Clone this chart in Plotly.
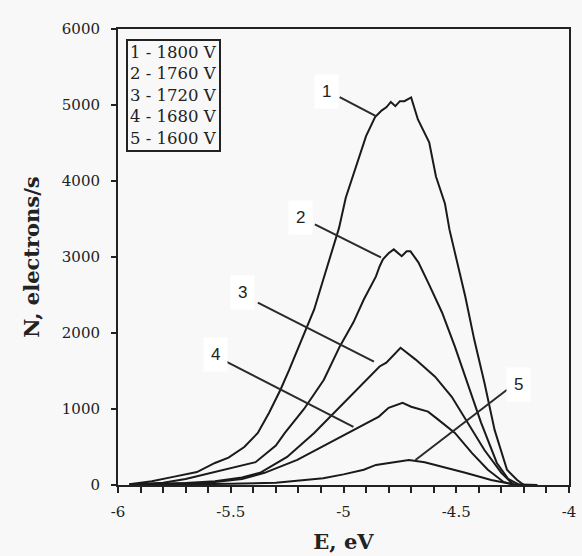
import plotly.graph_objects as go

# ---- data ----
E1 = [-5.95, -5.85, -5.75, -5.65, -5.57, -5.51, -5.44, -5.38, -5.33, -5.28, -5.24, -5.20, -5.16, -5.13,
      -5.09, -5.05, -5.02, -4.99, -4.94, -4.90, -4.86, -4.83, -4.81, -4.79, -4.77, -4.75, -4.73, -4.70,
      -4.67, -4.62, -4.59, -4.55, -4.53, -4.46, -4.42, -4.375, -4.33, -4.275, -4.23, -4.20]
N1 = [10, 50, 110, 170, 290, 360, 500, 685, 950, 1250, 1520, 1800, 2085, 2310,
      2700, 3100, 3380, 3780, 4245, 4590, 4840, 4930, 4970, 5040, 4985, 5050, 5050, 5100,
      4810, 4510, 4060, 3700, 3360, 2480, 1910, 1345, 725, 200, 65, 0]

E2 = [-5.95, -5.80, -5.70, -5.57, -5.47, -5.39, -5.30, -5.26, -5.175, -5.087, -5.017, -4.956, -4.91,
      -4.856, -4.84, -4.825, -4.80, -4.777, -4.742, -4.72, -4.703, -4.668, -4.624, -4.563, -4.506,
      -4.45, -4.39, -4.32, -4.27, -4.22]
N2 = [5, 30, 80, 170, 240, 300, 520, 685, 1000, 1385, 1820, 2140, 2440,
      2745, 2875, 2970, 3050, 3100, 3010, 3075, 3075, 2930, 2660, 2270, 1820,
      1345, 820, 290, 80, 0]

E3 = [-5.90, -5.70, -5.57, -5.45, -5.37, -5.25, -5.13, -5.017, -4.93, -4.84, -4.81, -4.78, -4.747,
      -4.68, -4.594, -4.52, -4.45, -4.375, -4.30, -4.245]
N3 = [5, 25, 50, 100, 160, 370, 685, 1030, 1290, 1560, 1610, 1700, 1805,
      1650, 1425, 1160, 820, 460, 160, 0]

E4 = [-5.90, -5.60, -5.45, -5.35, -5.205, -5.06, -4.956, -4.843, -4.80, -4.738, -4.70, -4.65, -4.625,
      -4.58, -4.506, -4.43, -4.36, -4.29, -4.24]
N4 = [5, 30, 80, 160, 330, 555, 725, 900, 1015, 1080, 1030, 990, 965,
      860, 685, 420, 200, 40, 0]

E5 = [-5.90, -5.50, -5.30, -5.20, -5.09, -5.00, -4.91, -4.856, -4.78, -4.71, -4.64, -4.56, -4.46,
      -4.345, -4.25, -4.14]
N5 = [5, 15, 30, 60, 90, 140, 200, 264, 300, 330, 300, 240, 160,
      65, 10, 0]

series_E = [E1, E2, E3, E4, E5]
series_N = [N1, N2, N3, N4, N5]
series_names = ["1 - 1800 V", "2 - 1760 V", "3 - 1720 V", "4 - 1680 V", "5 - 1600 V"]

# curve labels and leader lines (label pos, line start, line end)
label_text = ["1", "2", "3", "4", "5"]
label_E = [-5.074, -5.192, -5.45, -5.568, -4.223]
label_N = [5183, 3521, 2532, 1714, 1319]
leader_E0 = [-5.017, -5.127, -5.38, -5.52, -4.275]
leader_N0 = [5105, 3429, 2400, 1622, 1253]
leader_E1 = [-4.856, -4.834, -4.865, -4.956, -4.681]
leader_N1 = [4855, 2994, 1622, 765, 330]

x_ticks = [-6, -5.5, -5, -4.5, -4]
x_ticklabels = ["-6", "-5.5", "-5", "-4.5", "-4"]
y_ticks = [0, 1000, 2000, 3000, 4000, 5000, 6000]

BG = "#f8f8f8"
SERIF = "DejaVu Serif"

fig = go.Figure()
for e, n, name in zip(series_E, series_N, series_names):
    fig.add_trace(go.Scatter(x=e, y=n, mode="lines", name=name,
                             line=dict(color="#1a1a1a", width=2), showlegend=False))

for t, le, ln, e0, n0, e1, n1 in zip(label_text, label_E, label_N, leader_E0, leader_N0, leader_E1, leader_N1):
    fig.add_shape(type="line", xref="x", yref="y", x0=e0, y0=n0, x1=e1, y1=n1,
                  line=dict(color="#2a2a2a", width=2))
    fig.add_annotation(x=le, y=ln, xref="x", yref="y", text=t, showarrow=False,
                       font=dict(family="Liberation Sans", size=17, color="#222"),
                       bgcolor="white", borderpad=7)

# legend box
fig.add_annotation(xref="paper", yref="paper", x=0.0175, y=0.978, xanchor="left", yanchor="top",
                   text="<br>".join(series_names), align="left", showarrow=False,
                   font=dict(family=SERIF, size=16.5, color="#222"),
                   bgcolor=BG, bordercolor="#222", borderwidth=2, borderpad=2)

fig.update_layout(
    width=582, height=556,
    margin=dict(l=118, r=6, t=29, b=71),
    paper_bgcolor=BG, plot_bgcolor=BG,
    font=dict(family=SERIF, color="#222"),
    showlegend=False,
)
fig.update_xaxes(range=[-6, -4], tickvals=x_ticks, ticktext=x_ticklabels,
                 ticks="outside", ticklen=6, tickwidth=2, tickcolor="#222", ticklabelstandoff=6,
                 minor=dict(dtick=0.1, tick0=-6, ticks="outside", ticklen=6, tickwidth=2, tickcolor="#222"),
                 showline=True, linecolor="#222", linewidth=2, mirror=True, showgrid=False, zeroline=False,
                 tickfont=dict(family=SERIF, size=15, color="#222"),
                 title=dict(text="<b>E, eV</b>", font=dict(family=SERIF, size=21, color="#222"), standoff=14))
fig.update_yaxes(range=[0, 6000], tickvals=y_ticks,
                 ticks="outside", ticklen=5, tickwidth=2, tickcolor="#222", ticklabelstandoff=8,
                 showline=True, linecolor="#222", linewidth=2, mirror=True, showgrid=False, zeroline=False,
                 tickfont=dict(family=SERIF, size=15, color="#222"),
                 title=dict(text="<b>N, electrons/s</b>", font=dict(family=SERIF, size=21, color="#222"), standoff=16))

fig.write_html("out.html")
